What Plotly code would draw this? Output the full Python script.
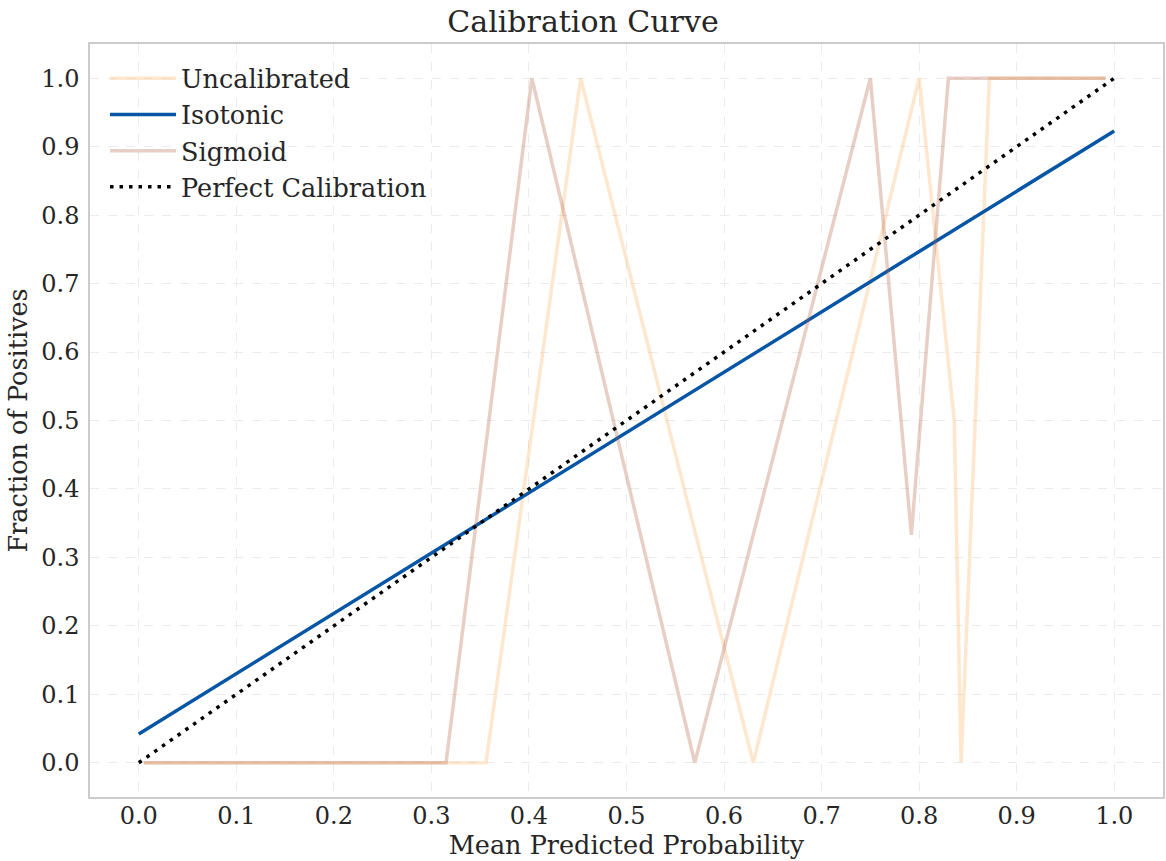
import plotly.graph_objects as go

# Calibration curve points (mean predicted probability, fraction of positives)
uncal_x = [0.005, 0.356, 0.453, 0.630, 0.800, 0.836, 0.843, 0.872, 0.991]
uncal_y = [0.0, 0.0, 1.0, 0.0, 1.0, 0.5, 0.0, 1.0, 1.0]

iso_x = [0.0, 1.0]
iso_y = [0.042, 0.923]

sig_x = [0.005, 0.315, 0.403, 0.570, 0.750, 0.792, 0.830, 0.991]
sig_y = [0.0, 0.0, 1.0, 0.0, 1.0, 0.333, 1.0, 1.0]

perfect_x = [0.0, 1.0]
perfect_y = [0.0, 1.0]

ticks = [round(i * 0.1, 1) for i in range(11)]
tick_text = [f"{t:.1f}" for t in ticks]

FONT = "DejaVu Serif"
TXT = "#262626"

fig = go.Figure()
fig.add_trace(go.Scatter(x=uncal_x, y=uncal_y, mode="lines", name="Uncalibrated",
                         line=dict(color="rgba(250,185,115,0.35)", width=3.5)))
fig.add_trace(go.Scatter(x=iso_x, y=iso_y, mode="lines", name="Isotonic",
                         line=dict(color="#0656a5", width=3.5)))
fig.add_trace(go.Scatter(x=sig_x, y=sig_y, mode="lines", name="Sigmoid",
                         line=dict(color="rgba(175,95,65,0.3)", width=3.5)))
fig.add_trace(go.Scatter(x=perfect_x, y=perfect_y, mode="lines", name="Perfect Calibration",
                         line=dict(color="black", width=3.5, dash="3.5px,6px")))

axis_common = dict(
    tickvals=ticks, ticktext=tick_text, range=[-0.05, 1.05],
    showgrid=True, gridcolor="#ebebeb", griddash="dash", gridwidth=1,
    zeroline=False, showline=True, linecolor="#cccccc", linewidth=1.5, mirror=True,
    tickfont=dict(family=FONT, size=24, color=TXT),
    ticks="",
)

fig.update_layout(
    width=1166, height=861,
    margin=dict(l=90, r=1, t=44, b=64),
    paper_bgcolor="white", plot_bgcolor="white",
    title=dict(text="Calibration Curve", x=0.5, xanchor="center", y=0.975, yanchor="middle",
               font=dict(family=FONT, size=30, color=TXT)),
    xaxis=dict(title=dict(text="Mean Predicted Probability", standoff=2,
                          font=dict(family=FONT, size=25.5, color=TXT)),
               ticklabelstandoff=-4, **axis_common),
    yaxis=dict(title=dict(text="Fraction of Positives", standoff=6,
                          font=dict(family=FONT, size=25.5, color=TXT)),
               ticklabelstandoff=4, **axis_common),
    legend=dict(x=0.014, y=0.985, xanchor="left", yanchor="top", bgcolor="rgba(0,0,0,0)",
                font=dict(family=FONT, size=25.5, color=TXT), itemwidth=66,
                tracegroupgap=0),
    showlegend=True,
)

fig.write_html("out.html")
